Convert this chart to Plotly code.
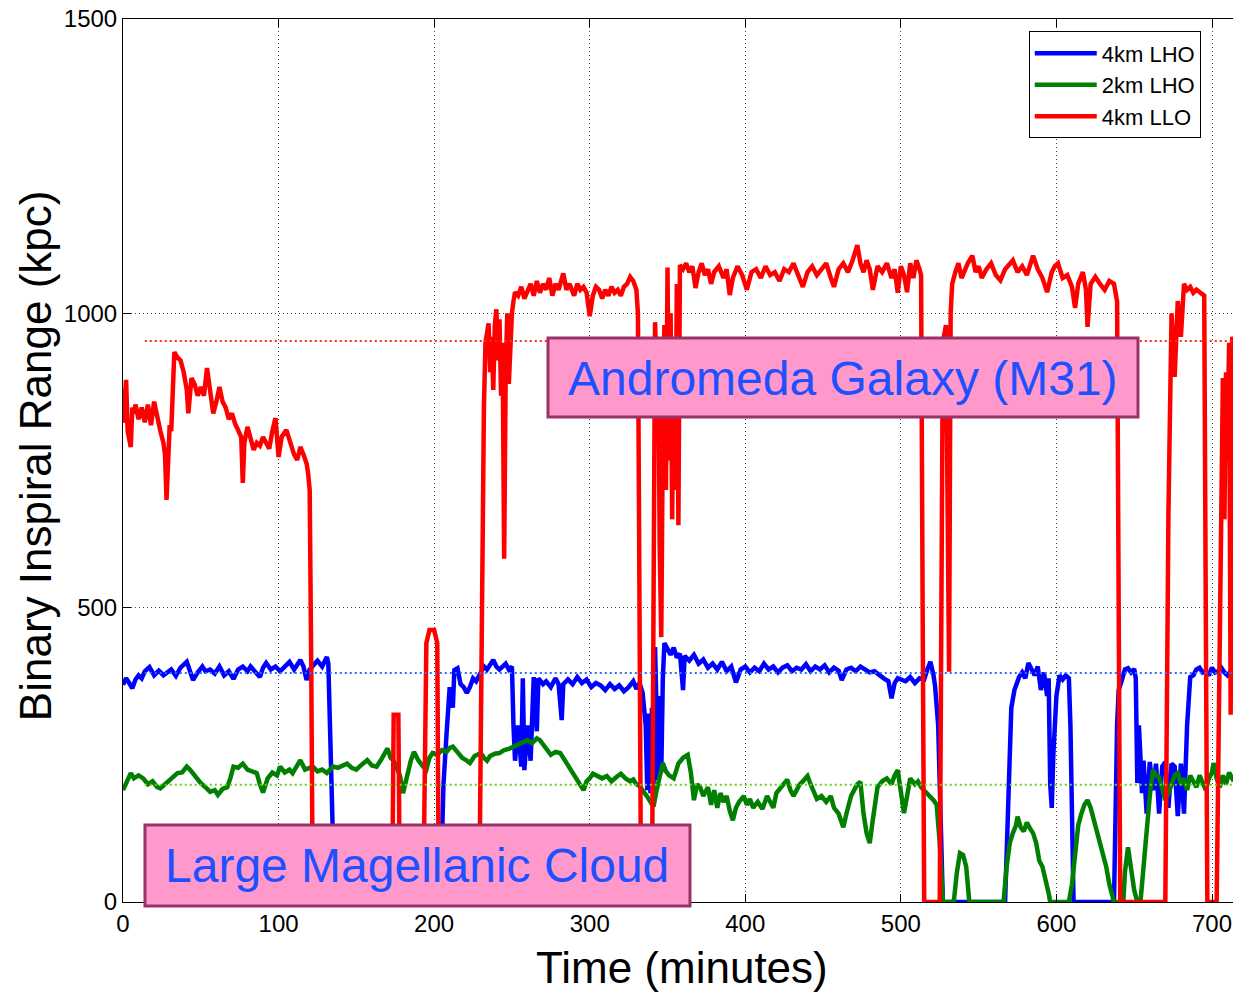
import plotly.graph_objects as go

# ---------------- data ----------------
llo_time = [0,1,2,3,4,5,6,7,8,10,12,14,16,18,20,22,24,26,27,28,29,30,31,32,33,35,37,39,41,42,44,46,48,50,52,54,56,58,60,62,64,66,68,70,72,74,76,77,78,80,82,84,86,88,90,92,94,96,98,100,102,105,108,110,112,114,116,118,119,120,121,122,
            173,174,177,178,193,195,197,200,202,203,229,231,232,233,235,236,237,238,239,240,241,242,243,244,245,246,247,248,249,250,251,252,254,256,258,260,262,264,266,268,270,272,274,276,278,280,283,285,287,290,292,294,296,298,300,302,304,306,308,310,312,314,316,318,320,322,324,326,328,330,331,332,333,
            340,341,342,343,344,345,346,347,348,349,350,351,352,353,354,355,356,357,358,360,362,364,366,368,370,372,374,376,378,380,383,386,388,390,392,395,398,401,404,407,410,413,416,419,422,425,428,431,434,437,440,443,446,449,452,455,457,460,463,466,469,472,474,476,478,480,482,485,488,491,494,496,498,500,502,504,506,508,510,512,513,514,515,
            525,527,529,531,532,533,535,537,539,541,543,546,548,550,552,555,558,561,564,567,570,572,575,578,581,585,588,591,594,597,599,601,604,607,610,612,614,617,619,620,622,625,628,631,634,637,639,640,641,
            670,672,674,676,678,680,682,684,686,688,690,693,695,696,697,703,705,706,707,708,709,710,711,712,713,714]
llo_range = [814,860,887,800,790,773,840,830,845,820,840,815,845,810,850,820,800,780,760,683,780,810,800,860,934,925,920,900,870,830,890,880,860,875,860,907,870,830,850,875,850,840,820,830,813,800,790,712,780,807,790,768,780,775,790,780,770,800,822,756,790,802,780,760,751,773,760,745,728,700,400,0,
             0,318,318,0,0,440,462,462,440,0,0,611,843,950,983,900,960,870,980,1007,920,990,860,950,583,900,1000,880,960,1000,1021,1036,1030,1045,1025,1040,1050,1030,1055,1035,1050,1040,1060,1030,1050,1040,1068,1040,1050,1030,1050,1040,1045,1035,995,1030,1045,1040,1025,1040,1030,1045,1035,1040,1030,1045,1050,1062,1055,1040,1000,500,0,
             0,700,985,900,950,600,450,800,980,700,1078,750,1000,650,950,700,1050,640,1082,1075,1085,1070,1080,1043,1070,1085,1065,1075,1050,1070,1080,1060,1075,1031,1060,1080,1065,1040,1070,1075,1060,1080,1065,1070,1055,1075,1070,1085,1065,1045,1070,1080,1065,1075,1085,1060,1045,1075,1085,1070,1090,1116,1085,1070,1090,1075,1040,1080,1070,1085,1060,1075,1035,1080,1065,1036,1085,1060,1090,1075,1065,500,0,
             0,950,980,391,1000,1050,1070,1085,1060,1075,1085,1098,1070,1080,1060,1075,1085,1065,1056,1075,1085,1090,1070,1080,1065,1098,1075,1060,1036,1070,1080,1085,1060,1065,1045,1009,1050,1070,1040,977,1050,1062,1050,1040,1055,1050,1020,500,0,
             0,662,1000,892,1021,960,1050,1040,1045,1035,1040,1035,1030,500,0,0,500,750,890,650,900,800,950,318,960,950]

lho4_time = [0,2,4,6,8,10,12,14,17,20,23,26,28,31,34,37,41,43,45,48,51,53,56,59,62,65,68,71,74,77,80,82,85,88,90,92,95,98,101,104,107,110,112,114,116,118,120,122,125,128,131,132,133,135,136,
             204,206,208,210,212,213,215,217,219,221,223,225,227,230,232,234,236,238,240,242,244,246,248,250,251,252,254,256,257,258,260,262,264,266,267,270,272,275,278,280,282,283,286,289,292,295,298,301,304,307,310,313,316,319,322,325,328,330,332,334,
             336,337,338,339,340,341,342,343,344,345,346,347,348,350,352,354,356,358,360,361,364,367,370,373,376,379,382,385,388,391,394,397,400,403,406,409,412,415,418,421,424,427,430,433,436,439,442,445,448,451,454,457,460,462,465,468,471,474,477,480,483,486,489,492,494,496,498,500,503,506,509,512,515,517,519,521,522,524,526,527,
             567,569,571,573,576,578,580,582,584,586,588,590,592,594,595,596,597,598,600,602,604,606,608,609,611,
             637,639,640,642,644,646,648,650,651,652,653,654,655,656,658,660,662,664,666,668,670,672,674,676,678,680,682,684,686,688,690,692,694,696,698,700,702,704,706,708,710,712,714]
lho4_range = [369,380,372,363,378,385,380,392,399,385,393,385,389,395,384,398,408,395,377,390,400,392,395,388,400,385,392,379,395,400,392,400,390,382,398,406,395,400,392,400,408,395,402,411,400,377,395,402,410,400,416,405,297,100,0,
              0,200,287,365,330,394,397,370,365,355,365,380,375,391,400,395,405,411,400,395,400,405,395,400,300,240,300,230,380,224,300,240,382,290,380,370,375,365,380,370,309,370,378,370,382,372,378,365,372,368,360,370,362,368,358,365,375,362,372,355,
              300,190,320,185,330,190,433,300,207,350,220,380,440,430,420,432,415,422,360,418,410,420,405,412,398,405,395,408,392,400,373,395,400,390,398,392,405,395,400,390,398,402,392,398,395,404,392,400,395,402,390,398,393,377,395,398,392,400,395,390,392,385,380,375,346,372,380,378,375,382,372,380,378,395,408,385,367,300,100,0,
              0,200,330,360,382,390,380,406,395,385,400,360,390,350,380,200,160,250,350,385,378,385,380,300,0,
              0,300,360,376,395,397,390,396,380,202,300,247,185,240,150,238,190,235,150,230,238,160,235,230,146,235,150,300,382,385,395,398,390,392,385,398,390,392,398,390,385,392,388]

lho2_time = [0,3,5,7,10,13,16,19,22,24,27,30,33,35,38,41,43,46,48,50,53,56,59,61,64,67,69,71,74,77,80,83,86,88,90,93,96,99,101,104,107,109,112,114,117,120,122,125,128,131,133,135,138,141,144,147,150,152,155,157,160,163,166,168,170,172,174,176,178,180,182,185,187,190,193,195,197,199,202,205,208,210,212,215,218,221,223,226,228,230,232,234,236,239,242,245,248,251,254,257,260,263,266,268,271,273,275,278,281,283,285,288,291,293,296,298,300,302,305,308,311,314,317,320,323,326,328,330,332,334,336,337,339,341,343,345,347,349,351,354,357,360,363,365,367,369,371,373,376,378,380,382,384,386,388,390,392,394,396,399,401,403,405,408,411,414,416,418,420,423,425,427,429,431,433,435,437,440,442,444,446,449,452,455,457,460,463,465,468,470,472,474,476,478,480,482,485,488,491,494,496,498,500,502,504,506,509,511,513,515,517,519,521,523,525,527,
             534,536,538,540,542,544,566,568,570,572,574,575,577,579,581,583,585,587,589,591,593,595,596,608,610,612,614,616,618,620,622,624,626,628,630,632,634,637,643,644,646,648,650,652,654,656,658,660,662,664,666,668,670,672,674,676,678,680,682,684,686,688,690,692,694,696,698,700,701,703,705,707,709,711,713,714]
lho2_range = [190,205,219,210,215,210,200,205,195,193,200,205,212,219,220,230,225,215,208,202,195,187,190,182,192,195,210,230,228,235,225,222,219,200,186,210,220,215,230,220,225,219,232,241,225,228,230,222,225,219,225,230,228,232,235,228,225,230,238,241,232,230,242,250,261,245,240,228,215,185,210,240,255,240,230,225,245,253,250,258,255,262,264,255,245,240,236,248,250,253,245,240,248,252,253,258,260,264,268,272,275,270,278,275,265,258,250,255,253,245,236,225,210,200,190,205,210,218,215,210,214,205,212,218,210,205,208,200,197,190,185,179,170,162,190,215,236,222,215,210,235,245,250,220,173,200,195,180,195,165,190,160,185,170,180,155,139,160,170,180,165,175,160,170,158,180,170,160,185,195,200,208,190,180,190,200,205,214,200,185,175,180,170,180,160,150,127,150,180,190,200,204,150,117,100,140,195,205,210,200,215,224,190,151,180,210,200,205,195,190,185,180,173,165,100,0,
              0,50,83,80,60,0,0,60,100,117,130,145,127,120,135,125,117,100,70,60,40,15,0,0,30,90,130,150,165,173,160,140,120,100,80,60,30,0,0,50,93,60,20,0,0,60,130,180,224,215,212,190,173,185,200,215,219,200,210,190,215,205,195,215,200,190,210,220,236,210,195,215,200,220,210,205]

series_names = ["4km LHO", "2km LHO", "4km LLO"]
series_colors = ["#0000FF", "#007F00", "#FF0000"]

# reference (target) levels, kpc
ref_levels = [953, 389, 199]
ref_colors = ["#FF2A1A", "#2F6BFF", "#66D01E"]
ref_start = 14

x_ticks = [0, 100, 200, 300, 400, 500, 600, 700]
y_ticks = [0, 500, 1000, 1500]
x_max = 713.5
y_max = 1500

# ---------------- figure ----------------
fig = go.Figure()
for name, color, tt, vv in zip(series_names, series_colors,
                               [lho4_time, lho2_time, llo_time],
                               [lho4_range, lho2_range, llo_range]):
    fig.add_trace(go.Scatter(x=tt, y=vv, mode="lines", name=name,
                             line=dict(color=color, width=4.5)))

for lvl, col in zip(ref_levels, ref_colors):
    fig.add_trace(go.Scatter(x=[ref_start, x_max], y=[lvl, lvl], mode="lines",
                             showlegend=False, hoverinfo="skip",
                             line=dict(color=col, width=2, dash="2px,3px")))

FONT = "Liberation Sans, Arial, sans-serif"
fig.update_layout(
    width=1233, height=992,
    margin=dict(l=123, r=0, t=19, b=90),
    paper_bgcolor="white", plot_bgcolor="white",
    font=dict(family=FONT, color="black"),
    showlegend=True,
    legend=dict(x=0.816, y=0.986, xanchor="left", yanchor="top",
                bgcolor="white", bordercolor="black", borderwidth=1,
                font=dict(size=22, family=FONT), itemwidth=62,
                tracegroupgap=0),
)
fig.update_xaxes(range=[0, x_max], tickvals=x_ticks, ticks="inside", ticklen=8,
                 tickcolor="black", showline=True, linecolor="black", linewidth=1,
                 mirror="ticks", showgrid=True, gridcolor="#444444", griddash="1px,3px",
                 gridwidth=1, zeroline=False, tickfont=dict(size=24, family=FONT))
fig.update_yaxes(range=[0, y_max], tickvals=y_ticks, ticks="inside", ticklen=8,
                 tickcolor="black", showline=True, linecolor="black", linewidth=1,
                 mirror=False, showgrid=True, gridcolor="#444444", griddash="1px,3px",
                 gridwidth=1, zeroline=False, tickfont=dict(size=24, family=FONT))

# axis titles
fig.add_annotation(text="Time (minutes)", xref="paper", yref="paper", x=0.5036, y=-0.0747,
                   xanchor="center", yanchor="middle",
                   showarrow=False, font=dict(size=44, family=FONT, color="black"))
fig.add_annotation(text="Binary Inspiral Range (kpc)", xref="paper", yref="paper",
                   x=-0.0793, y=0.506, xanchor="center", yanchor="middle",
                   textangle=-90, showarrow=False,
                   font=dict(size=44, family=FONT, color="black"))

# labelled boxes
BOX_FILL = "#FF99CC"
BOX_LINE = "#993366"
TXT = "#1E50FF"
fig.add_shape(type="rect", xref="paper", yref="paper", x0=0.3829, x1=0.9144, y0=0.5493, y1=0.6387,
              fillcolor=BOX_FILL, line=dict(color=BOX_LINE, width=3), layer="above")
fig.add_annotation(text="Andromeda Galaxy (M31)", xref="paper", yref="paper", x=0.6486, y=0.5934,
                   xanchor="center", yanchor="middle",
                   showarrow=False, font=dict(size=48, family=FONT, color=TXT))
fig.add_shape(type="rect", xref="paper", yref="paper", x0=0.0198, x1=0.5108, y0=-0.0045, y1=0.0872,
              fillcolor=BOX_FILL, line=dict(color=BOX_LINE, width=3), layer="above")
fig.add_annotation(text="Large Magellanic Cloud", xref="paper", yref="paper", x=0.2649, y=0.0408,
                   xanchor="center", yanchor="middle",
                   showarrow=False, font=dict(size=48, family=FONT, color=TXT))

fig.write_html("out.html")
